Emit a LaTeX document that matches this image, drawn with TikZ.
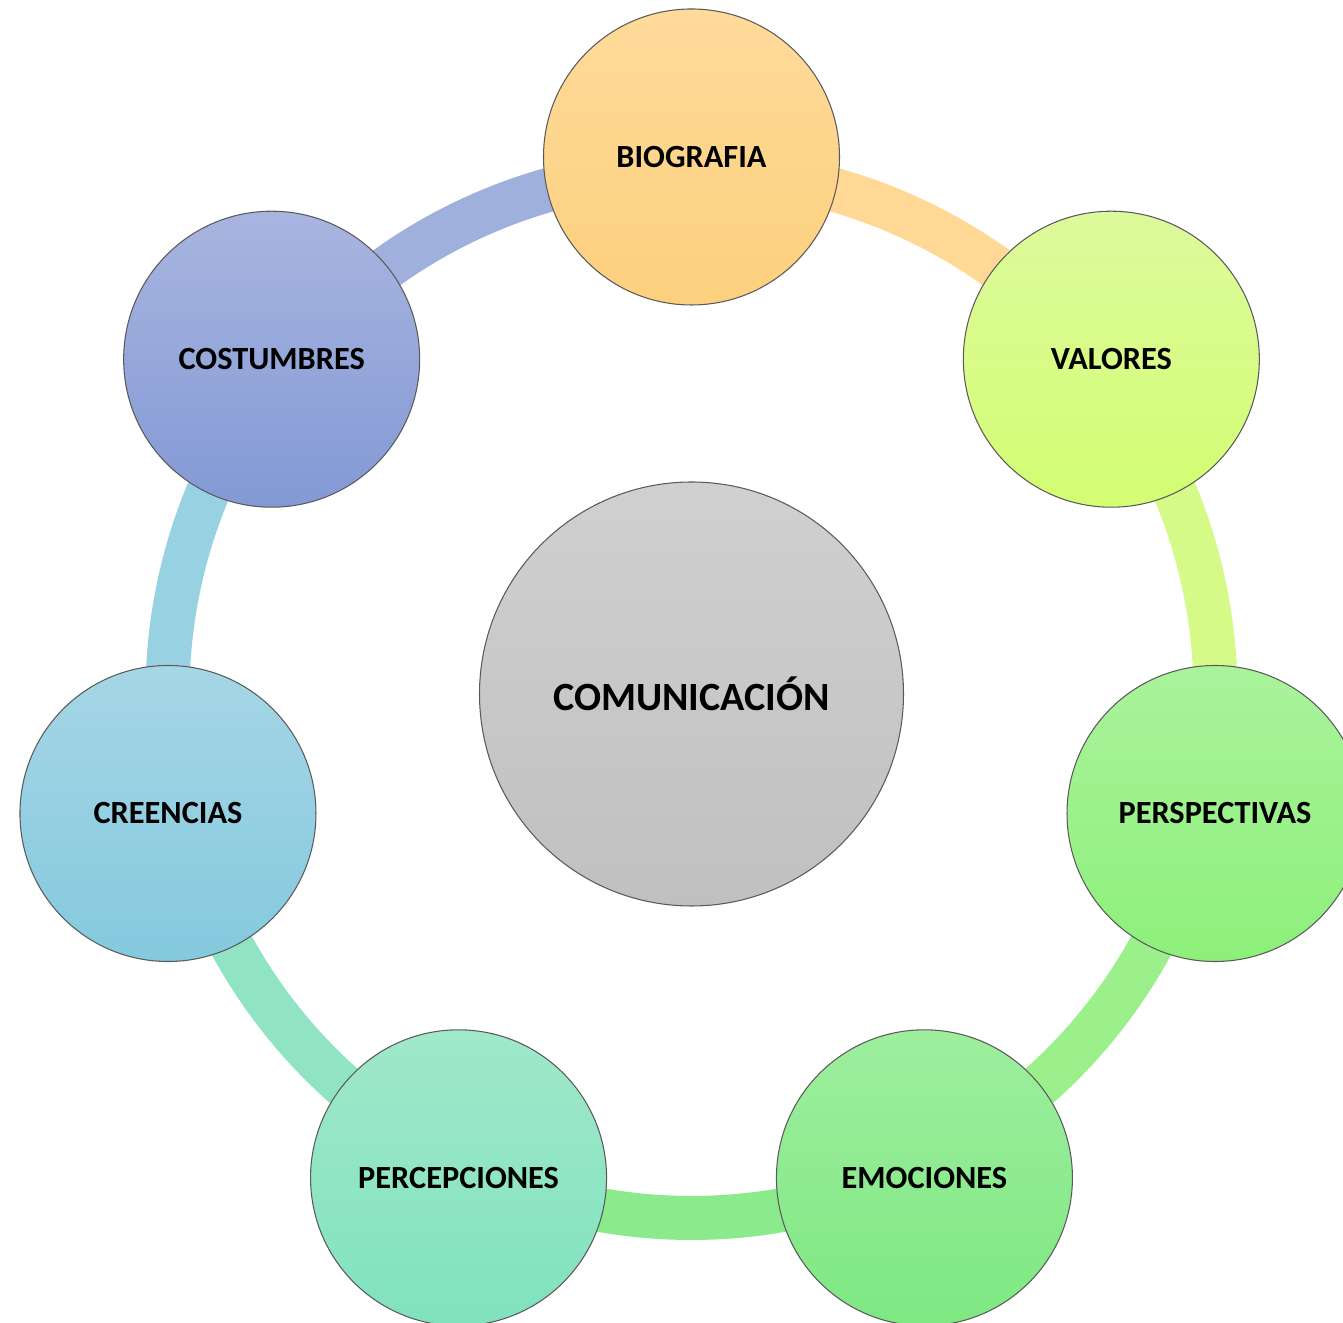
\documentclass[tikz,border=0pt]{standalone}
\usepackage{fontspec}
\setmainfont{Carlito}

\definecolor{bordo}{HTML}{5A5A5A}
\definecolor{bioA}{HTML}{FFDA9A}\definecolor{bioB}{HTML}{FCD07E}\definecolor{bioR}{HTML}{FFD896}
\definecolor{valA}{HTML}{DDFA9C}\definecolor{valB}{HTML}{D3FD72}\definecolor{valR}{HTML}{D6FA88}
\definecolor{perA}{HTML}{AAF39C}\definecolor{perB}{HTML}{8DF07A}\definecolor{perR}{HTML}{9CF08C}
\definecolor{emoA}{HTML}{9EEE9E}\definecolor{emoB}{HTML}{7EE882}\definecolor{emoR}{HTML}{8AEA8C}
\definecolor{pcpA}{HTML}{A0E8CA}\definecolor{pcpB}{HTML}{80E2BE}\definecolor{pcpR}{HTML}{90E4C4}
\definecolor{creA}{HTML}{A6D6E6}\definecolor{creB}{HTML}{84C9DE}\definecolor{creR}{HTML}{98D2E2}
\definecolor{cosA}{HTML}{A8B5DF}\definecolor{cosB}{HTML}{8399D5}\definecolor{cosR}{HTML}{A0B0DC}
\definecolor{comA}{HTML}{D0D0D0}\definecolor{comB}{HTML}{C0C0C0}

\tikzset{
    elem/.style={circle, draw=bordo, line width=0.3pt, minimum size=2.96cm, inner sep=0,
        font=\fontsize{9.2}{11}\selectfont\bfseries},
    anello/.style={line width=0.44cm},
}

\begin{document}
\begin{tikzpicture}
    \useasboundingbox (-6.915,-6.29) rectangle (6.515,6.94);

    \coordinate (r1) at (90:5.24);
    \coordinate (r2) at (38.57:5.24);
    \coordinate (r3) at (-12.86:5.24);
    \coordinate (r4) at (-64.29:5.24);
    \coordinate (r5) at (-115.71:5.24);
    \coordinate (r6) at (-167.14:5.24);
    \coordinate (r7) at (141.43:5.24);

    \draw[anello, draw=bioR] (r1) arc[start angle=90, end angle=38.57, radius=5.24];
    \draw[anello, draw=valR] (r2) arc[start angle=38.57, end angle=-12.86, radius=5.24];
    \draw[anello, draw=perR] (r3) arc[start angle=-12.86, end angle=-64.29, radius=5.24];
    \draw[anello, draw=emoR] (r4) arc[start angle=-64.29, end angle=-115.71, radius=5.24];
    \draw[anello, draw=pcpR] (r5) arc[start angle=-115.71, end angle=-167.14, radius=5.24];
    \draw[anello, draw=creR] (r6) arc[start angle=-167.14, end angle=-218.57, radius=5.24];
    \draw[anello, draw=cosR] (r7) arc[start angle=141.43, end angle=90, radius=5.24];

    \node[elem, top color=bioA, bottom color=bioB] (bio) at (90:5.37) {BIOGRAFIA};
    \node[elem, top color=valA, bottom color=valB] (val) at (38.57:5.37) {VALORES};
    \node[elem, top color=perA, bottom color=perB] (per) at (-12.86:5.37) {PERSPECTIVAS};
    \node[elem, top color=emoA, bottom color=emoB] (emo) at (-64.29:5.37) {EMOCIONES};
    \node[elem, top color=pcpA, bottom color=pcpB] (pcp) at (-115.71:5.37) {PERCEPCIONES};
    \node[elem, top color=creA, bottom color=creB] (cre) at (-167.14:5.37) {CREENCIAS};
    \node[elem, top color=cosA, bottom color=cosB] (cos) at (141.43:5.37) {COSTUMBRES};

    \node[elem, minimum size=4.24cm, top color=comA, bottom color=comB,
        font=\fontsize{11.4}{13}\selectfont\bfseries] (com) at (0,0) {COMUNICACIÓN};
\end{tikzpicture}
\end{document}
